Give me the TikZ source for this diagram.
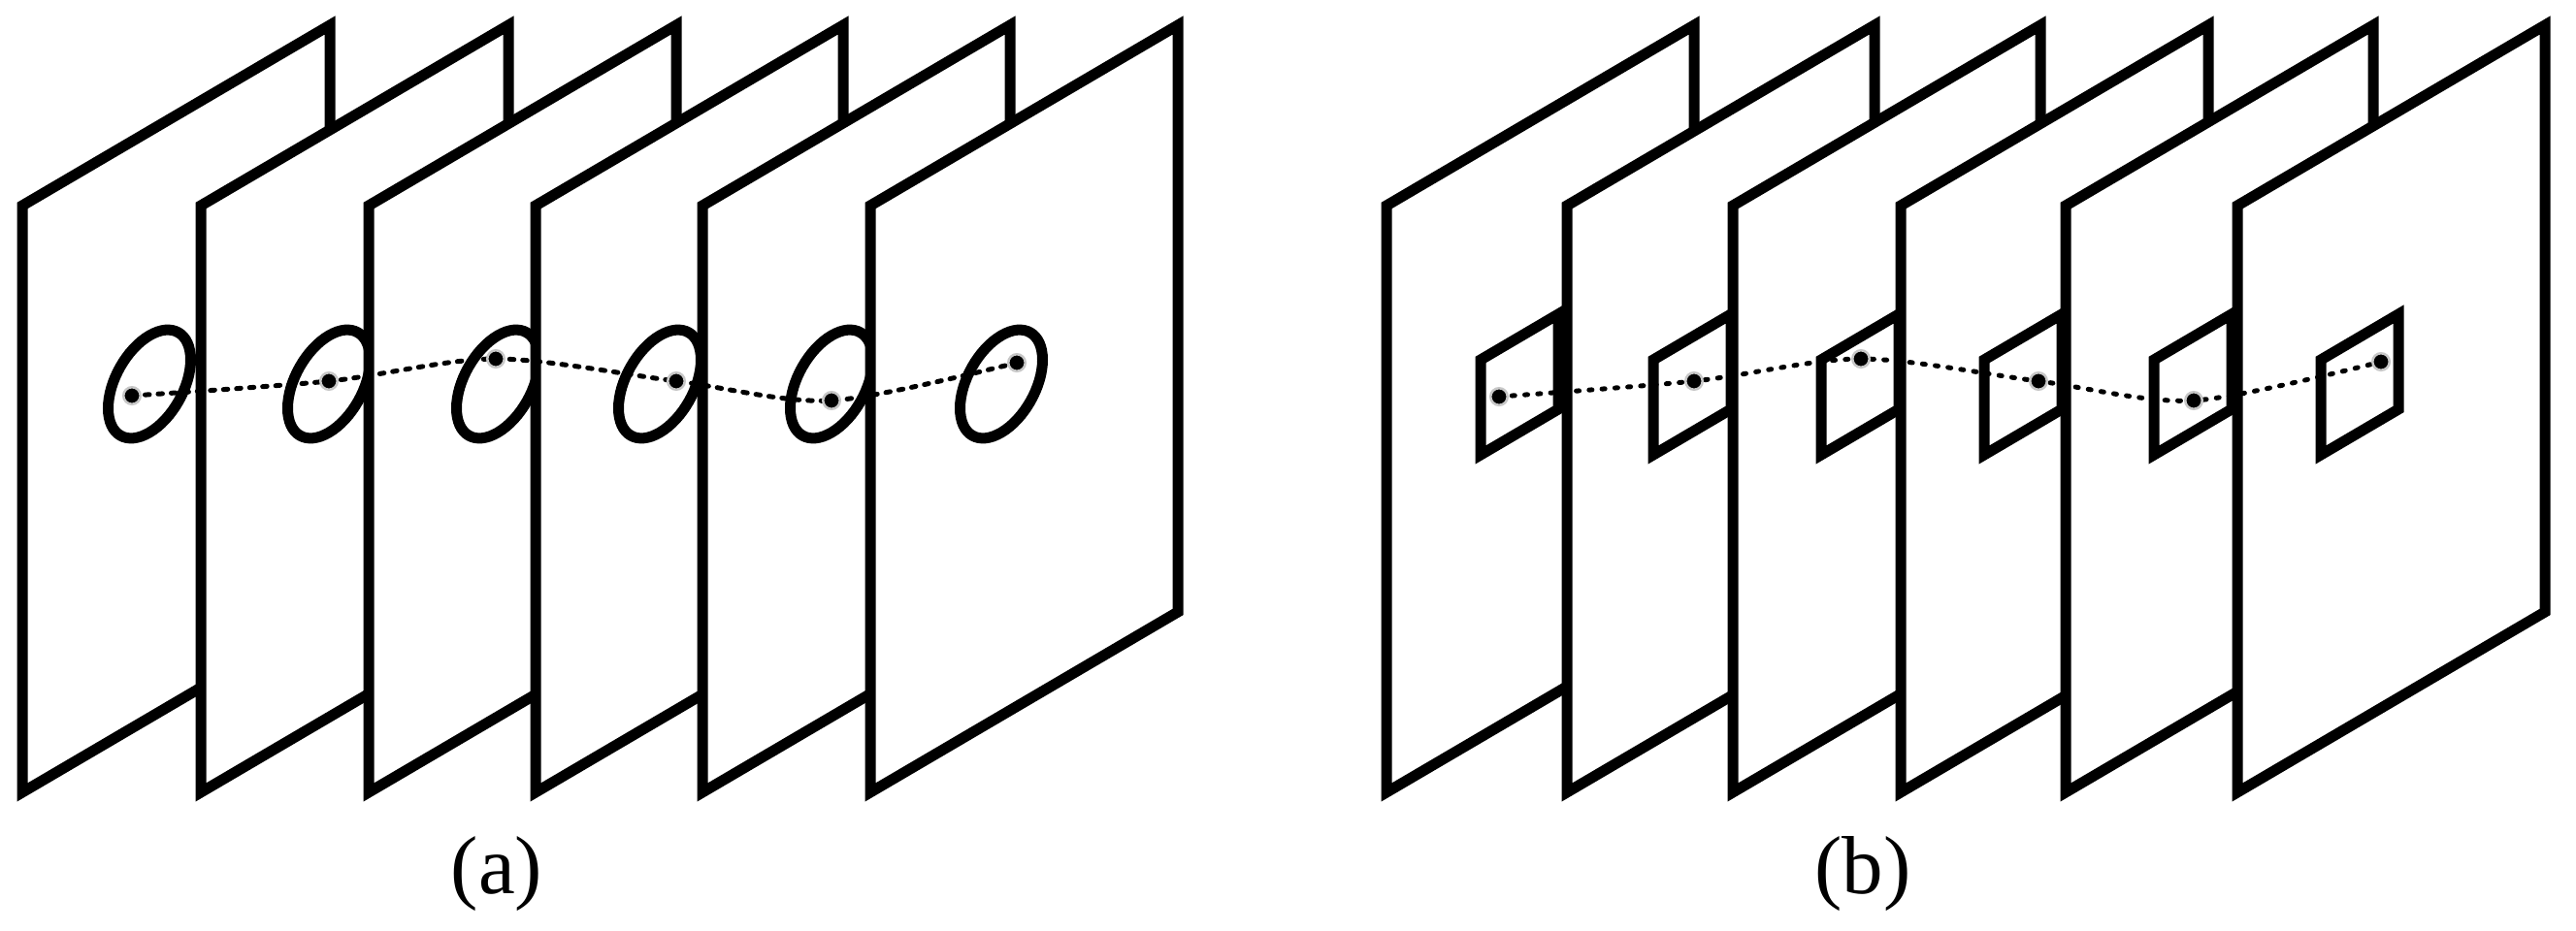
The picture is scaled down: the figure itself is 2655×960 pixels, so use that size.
\documentclass[tikz,border=0pt]{standalone}
\usepackage{fontspec}
\setmainfont{Liberation Serif}
\begin{document}
\begin{tikzpicture}[x=1pt,y=-1pt,
  frame/.style={draw=black, line width=11pt, fill=white, line join=miter},
  ring/.style={draw=black, line width=11pt},
  sq/.style={draw=black, line width=11pt, line join=miter},
  tracka/.style={line width=5pt, line cap=round, dash pattern=on 4.5pt off 9pt},
  trackb/.style={line width=5pt, line cap=round, dash pattern=on 3pt off 10.3pt},
  dotmark/.style={circle, fill=black, draw=black!22, line width=2.5pt, inner sep=0pt, minimum size=17.5pt},
  lbl/.style={font=\fontsize{85}{100}\selectfont, anchor=base, inner sep=0pt}]
\useasboundingbox (0,0) rectangle (2655,960);
% ---------- panel (a): frames with ellipses
\foreach \L/\cx in {23/154, 207/339, 380/513, 552/680, 724/857, 897/1032} {
  \draw[frame] (\L,212) -- ++(317,-186) -- ++(0,605) -- (\L,817) -- cycle;
  \begin{scope}[shift={(\cx,396)}, yslant=0.587]
    \draw[ring] (0,0) ellipse [x radius=42.5pt, y radius=50pt];
  \end{scope}
}
% ---------- panel (b): frames with small squares
\foreach \L/\sx in {1429/1526, 1615/1704, 1786/1877, 1959/2045, 2129/2220, 2306/2392} {
  \draw[frame] (\L,212) -- ++(317,-186) -- ++(0,605) -- (\L,817) -- cycle;
  \draw[sq] (\sx,371) -- ++(80,-47) -- ++(0,98) -- (\sx,469) -- cycle;
}
% ---------- track points
\coordinate (a1) at (136,408);
\coordinate (a2) at (339,393);
\coordinate (a3) at (511,370);
\coordinate (a4) at (697,393);
\coordinate (a5) at (857,413);
\coordinate (a6) at (1048,374);
\coordinate (b1) at (1545,409);
\coordinate (b2) at (1746,393);
\coordinate (b3) at (1918,370);
\coordinate (b4) at (2101,393);
\coordinate (b5) at (2261,413);
\coordinate (b6) at (2454,373);
\draw[tracka] plot[smooth, tension=0.5] coordinates {(a1) (a2) (a3) (a4) (a5) (a6)};
\draw[trackb] plot[smooth, tension=0.5] coordinates {(b1) (b2) (b3) (b4) (b5) (b6)};
\foreach \i in {1,...,6} {
  \node[dotmark] (pa\i) at (a\i) {};
  \node[dotmark] (pb\i) at (b\i) {};
}
% ---------- labels
\node[lbl] (la) at (512,921) {(a)};
\node[lbl] (lb) at (1920,921) {(b)};
\end{tikzpicture}
\end{document}
